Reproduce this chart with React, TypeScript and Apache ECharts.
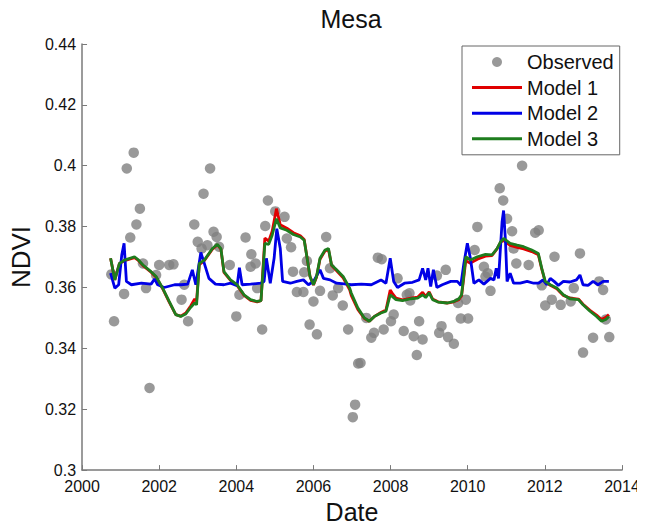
import React, { useEffect, useRef } from "react";
import * as echarts from "echarts";

const xTicks = [2000, 2002, 2004, 2006, 2008, 2010, 2012, 2014];
const yTicks = [0.3, 0.32, 0.34, 0.36, 0.38, 0.4, 0.42, 0.44];

const obsDates = [
  2000.76, 2000.83, 2001.09, 2001.16, 2001.25, 2001.34, 2001.41, 2001.5, 2001.58, 2001.66,
  2001.75, 2001.92, 2002.0, 2002.26, 2002.37, 2002.58, 2002.65, 2002.75, 2002.91, 2003.0,
  2003.1, 2003.15, 2003.25, 2003.32, 2003.41, 2003.49, 2003.55, 2003.83, 2004.0, 2004.08,
  2004.24, 2004.37, 2004.39, 2004.5, 2004.54, 2004.67, 2004.75, 2004.82, 2005.01, 2005.25,
  2005.31, 2005.42, 2005.47, 2005.57, 2005.74, 2005.76, 2005.83, 2005.9, 2006.0, 2006.09,
  2006.17, 2006.33, 2006.43, 2006.5, 2006.64, 2006.76, 2006.9, 2007.02, 2007.08, 2007.16,
  2007.22, 2007.37, 2007.5, 2007.57, 2007.67, 2007.77, 2007.82, 2008.01, 2008.08, 2008.18,
  2008.34, 2008.42, 2008.49, 2008.51, 2008.6, 2008.68, 2008.74, 2008.83, 2009.2, 2009.26,
  2009.32, 2009.43, 2009.49, 2009.64, 2009.75, 2009.82, 2009.95, 2010.01, 2010.18, 2010.25,
  2010.42, 2010.46, 2010.52, 2010.59, 2010.83, 2010.92, 2011.02, 2011.15, 2011.19, 2011.26,
  2011.41, 2011.58, 2011.75, 2011.84, 2011.92, 2012.01, 2012.18, 2012.25, 2012.41, 2012.67,
  2012.75, 2012.91, 2012.99, 2013.25, 2013.41, 2013.51, 2013.58, 2013.67,
];
const obsValues = [
  0.3643, 0.3489, 0.3579, 0.3991, 0.3764, 0.4043, 0.3807, 0.3859, 0.3679, 0.3598,
  0.327, 0.3641, 0.3674, 0.3674, 0.3676, 0.356, 0.3609, 0.3489, 0.3807, 0.375,
  0.3728, 0.3908, 0.3739, 0.3991, 0.3783, 0.3766, 0.3734, 0.3674, 0.3505, 0.3576,
  0.3764, 0.3668, 0.3709, 0.3679, 0.3598, 0.3462, 0.3802, 0.3886, 0.385, 0.3832,
  0.3761, 0.3732, 0.3652, 0.3585, 0.3585, 0.365, 0.3687, 0.3478, 0.3554, 0.3446,
  0.3589, 0.3766, 0.3663, 0.3574, 0.3598, 0.3541, 0.3462, 0.3174, 0.3215, 0.335,
  0.3352, 0.35, 0.3435, 0.3451, 0.3698, 0.3693, 0.3462, 0.3489, 0.3511, 0.363,
  0.3457, 0.3576, 0.3581, 0.3557, 0.344, 0.3378, 0.3489, 0.3429, 0.3639, 0.3451,
  0.3473, 0.3658, 0.3437, 0.3415, 0.3549, 0.3498, 0.356, 0.3498, 0.3723, 0.3799,
  0.3668, 0.3636, 0.3647, 0.3589, 0.3926, 0.3886, 0.3826, 0.3785, 0.3728, 0.3679,
  0.4, 0.3674, 0.378, 0.3788, 0.3607, 0.3541, 0.356, 0.3701, 0.3543, 0.3554,
  0.3598, 0.3712, 0.3386, 0.3435, 0.362, 0.3592, 0.3495, 0.3437,
];

const m3Dates = [
  2000.74, 2000.85, 2000.97, 2001.1, 2001.36, 2001.45, 2001.58, 2001.79, 2001.92, 2002.09,
  2002.26, 2002.43, 2002.56, 2002.69, 2002.82, 2002.92, 2002.97, 2003.04, 2003.17, 2003.38,
  2003.51, 2003.6, 2003.68, 2003.85, 2004.02, 2004.2, 2004.37, 2004.54, 2004.64, 2004.74,
  2004.84, 2004.93, 2005.04, 2005.14, 2005.31, 2005.48, 2005.66, 2005.76, 2005.85, 2005.91,
  2006.0, 2006.08, 2006.17, 2006.3, 2006.39, 2006.47, 2006.6, 2006.77, 2006.94, 2006.98,
  2007.15, 2007.32, 2007.45, 2007.58, 2007.75, 2007.88, 2007.99, 2008.05, 2008.14, 2008.31,
  2008.53, 2008.7, 2008.83, 2008.91, 2009.0, 2009.09, 2009.23, 2009.47, 2009.64, 2009.77,
  2009.84, 2009.88, 2009.95, 2010.07, 2010.25, 2010.46, 2010.63, 2010.76, 2010.85, 2010.93,
  2011.1, 2011.28, 2011.45, 2011.66, 2011.83, 2011.92, 2012.01, 2012.14, 2012.31, 2012.48,
  2012.65, 2012.87, 2012.99, 2013.17, 2013.34, 2013.47, 2013.58, 2013.66,
];
const m3Values = [
  0.3696, 0.3625, 0.3679, 0.369, 0.3701, 0.3692, 0.3674, 0.3652, 0.3636, 0.3598,
  0.3554, 0.3511, 0.3505, 0.3513, 0.3535, 0.3549, 0.3543, 0.3679, 0.369, 0.3728,
  0.3742, 0.3728, 0.3652, 0.3625, 0.3609, 0.3576, 0.356, 0.3554, 0.3557, 0.3745,
  0.3742, 0.3772, 0.3826, 0.3796, 0.3788, 0.3774, 0.3766, 0.3755, 0.3685, 0.3636,
  0.3609, 0.3636, 0.3696, 0.3723, 0.3728, 0.3674, 0.3658, 0.3636, 0.3598, 0.3582,
  0.3533, 0.35, 0.3489, 0.3505, 0.3516, 0.3522, 0.3576, 0.357, 0.356, 0.3557,
  0.3563, 0.3565, 0.3576, 0.3567, 0.3582, 0.356, 0.3552, 0.3549, 0.3554, 0.3563,
  0.3576, 0.362, 0.3701, 0.369, 0.3701, 0.3709, 0.3707, 0.3728, 0.375, 0.3761,
  0.3745, 0.3739, 0.3734, 0.3723, 0.3712, 0.3663, 0.362, 0.3609, 0.3598, 0.3576,
  0.3563, 0.356, 0.3543, 0.3522, 0.3505, 0.3489, 0.3495, 0.3505,
];

const m1Dates = m3Dates;
const m1Values = [
  0.3696, 0.3625, 0.3679, 0.3688, 0.3698, 0.369, 0.3672, 0.365, 0.3634, 0.3596,
  0.3552, 0.3511, 0.3506, 0.3516, 0.354, 0.3562, 0.3556, 0.3675, 0.3688, 0.3726,
  0.374, 0.3726, 0.365, 0.3623, 0.3607, 0.3574, 0.3558, 0.3553, 0.3557, 0.3762,
  0.3752, 0.3785, 0.3859, 0.3806, 0.3795, 0.378, 0.377, 0.3758, 0.3685, 0.3636,
  0.3608, 0.3634, 0.3693, 0.372, 0.3725, 0.3672, 0.3655, 0.3632, 0.3592, 0.3574,
  0.3528, 0.3498, 0.3489, 0.3505, 0.3518, 0.3526, 0.3592, 0.358, 0.3565, 0.3559,
  0.3565, 0.3568, 0.3584, 0.357, 0.3586, 0.3562, 0.3553, 0.3549, 0.3553, 0.356,
  0.3572, 0.3614, 0.3688, 0.368, 0.3693, 0.3703, 0.3705, 0.3727, 0.3748, 0.3755,
  0.3738, 0.3732, 0.3727, 0.3718, 0.3708, 0.366, 0.3618, 0.3607, 0.3596, 0.3574,
  0.3565, 0.3562, 0.3545, 0.3525, 0.3509, 0.3495, 0.3502, 0.3511,
];

const m2Dates = [
  2000.74, 2000.85, 2000.95, 2001.03, 2001.09, 2001.15, 2001.28, 2001.54, 2001.79, 2001.88,
  2001.96, 2002.13, 2002.4, 2002.57, 2002.74, 2002.86, 2002.95, 2003.08, 2003.17, 2003.29,
  2003.46, 2003.68, 2003.85, 2004.02, 2004.08, 2004.15, 2004.37, 2004.63, 2004.72, 2004.78,
  2004.88, 2004.98, 2005.05, 2005.14, 2005.2, 2005.4, 2005.57, 2005.74, 2005.87, 2006.0,
  2006.17, 2006.26, 2006.43, 2006.6, 2006.86, 2006.98, 2007.24, 2007.5, 2007.75, 2007.88,
  2007.99, 2008.08, 2008.18, 2008.36, 2008.57, 2008.74, 2008.83, 2008.91, 2008.97, 2009.04,
  2009.11, 2009.2, 2009.34, 2009.56, 2009.73, 2009.82, 2009.9, 2009.99, 2010.07, 2010.16,
  2010.29, 2010.42, 2010.59, 2010.68, 2010.74, 2010.8, 2010.89, 2010.93, 2010.98, 2011.02,
  2011.1, 2011.19, 2011.36, 2011.54, 2011.71, 2011.84, 2011.95, 2012.05, 2012.14, 2012.24,
  2012.35, 2012.48, 2012.65, 2012.82, 2012.91, 2012.99, 2013.12, 2013.25, 2013.38, 2013.51,
  2013.66,
];
const m2Values = [
  0.3647, 0.3598, 0.3609, 0.3707, 0.3745, 0.362, 0.3609, 0.3614, 0.3611, 0.3628,
  0.3609, 0.36, 0.3609, 0.3609, 0.3611, 0.3658, 0.3609, 0.3715, 0.3679, 0.363,
  0.3611, 0.3609, 0.3614, 0.3606, 0.3665, 0.3609, 0.3611, 0.3614, 0.362, 0.3696,
  0.3614, 0.3696, 0.3793, 0.3728, 0.362, 0.3614, 0.362, 0.3625, 0.3609, 0.362,
  0.3658, 0.363, 0.3625, 0.3614, 0.3611, 0.3609, 0.3611, 0.3609, 0.3625, 0.3614,
  0.3696, 0.362, 0.36, 0.3614, 0.3617, 0.3625, 0.3663, 0.3625, 0.3663, 0.3603,
  0.3658, 0.36, 0.3609, 0.362, 0.362, 0.3607, 0.3679, 0.3745, 0.3696, 0.3614,
  0.3625, 0.3611, 0.363, 0.3625, 0.3663, 0.363, 0.3815, 0.3853, 0.375, 0.362,
  0.3647, 0.3614, 0.3614, 0.362, 0.3614, 0.3614, 0.3625, 0.3609, 0.363, 0.362,
  0.3607, 0.362, 0.3618, 0.3625, 0.3641, 0.3609, 0.3607, 0.362, 0.3609, 0.362,
  0.362,
];

const zip = (xs: number[], ys: number[]) => xs.map((x, i) => [x, ys[i]]);

const lineIcon = "path://M0,0L50,0L50,3L0,3Z";

export default function App() {
  const ref = useRef<HTMLDivElement>(null);
  useEffect(() => {
    if (!ref.current) return;
    const chart = echarts.init(ref.current, null, { renderer: "svg" });
    const axisColor = "#7a7a7a";
    const font = "Arial, 'Liberation Sans', sans-serif";
    chart.setOption({
      animation: false,
      backgroundColor: "#ffffff",
      title: {
        text: "Mesa",
        left: 351,
        top: 6,
        textAlign: "center",
        padding: 0,
        textStyle: { fontFamily: font, fontSize: 25, fontWeight: "normal", color: "#111" },
      },
      grid: { left: 79, right: 23, top: 44, bottom: 56, containLabel: false },
      legend: {
        orient: "vertical",
        left: 462,
        top: 46,
        padding: [6, 6, 6, 10],
        itemGap: 5.6,
        itemWidth: 50,
        itemHeight: 10,
        symbolKeepAspect: true,
        backgroundColor: "#ffffff",
        borderColor: "#666",
        borderWidth: 1,
        borderRadius: 0,
        textStyle: { fontFamily: font, fontSize: 20, lineHeight: 20, color: "#111" },
        data: [
          { name: "Observed", icon: "circle" },
          { name: "Model 1", icon: lineIcon },
          { name: "Model 2", icon: lineIcon },
          { name: "Model 3", icon: lineIcon },
        ],
      },
      xAxis: {
        type: "value",
        min: xTicks[0],
        max: xTicks[xTicks.length - 1],
        interval: 2,
        name: "Date",
        nameLocation: "middle",
        nameGap: 26,
        nameTextStyle: { fontFamily: font, fontSize: 25, color: "#111" },
        axisLine: { show: true, lineStyle: { color: axisColor, width: 1.5 } },
        axisTick: { show: true, inside: true, length: 5, lineStyle: { color: axisColor } },
        axisLabel: {
          margin: 8,
          fontFamily: font,
          fontSize: 16,
          color: "#111",
          formatter: (v: number) => String(v),
        },
        splitLine: { show: false },
      },
      yAxis: {
        type: "value",
        min: yTicks[0],
        max: yTicks[yTicks.length - 1],
        interval: 0.02,
        name: "NDVI",
        nameLocation: "middle",
        nameRotate: 90,
        nameGap: 47,
        nameTextStyle: { fontFamily: font, fontSize: 26, color: "#111" },
        axisLine: { show: true, lineStyle: { color: axisColor, width: 1.5 } },
        axisTick: { show: true, inside: true, length: 5, lineStyle: { color: axisColor } },
        axisLabel: {
          margin: 6,
          fontFamily: font,
          fontSize: 16,
          color: "#111",
          formatter: (v: number) => String(parseFloat(v.toFixed(2))),
        },
        splitLine: { show: false },
      },
      series: [
        {
          name: "Observed",
          type: "scatter",
          symbol: "circle",
          symbolSize: 10.5,
          itemStyle: { color: "#808080" },
          data: zip(obsDates, obsValues),
          z: 1,
        },
        {
          name: "Model 1",
          type: "line",
          symbol: "none",
          lineStyle: { color: "#e00000", width: 2.8 },
          itemStyle: { color: "#e00000" },
          data: zip(m1Dates, m1Values),
          z: 2,
        },
        {
          name: "Model 2",
          type: "line",
          symbol: "none",
          lineStyle: { color: "#0000e6", width: 2.8 },
          itemStyle: { color: "#0000e6" },
          data: zip(m2Dates, m2Values),
          z: 3,
        },
        {
          name: "Model 3",
          type: "line",
          symbol: "none",
          lineStyle: { color: "#1e7d1e", width: 2.8 },
          itemStyle: { color: "#1e7d1e" },
          data: zip(m3Dates, m3Values),
          z: 4,
        },
      ],
    });
    return () => chart.dispose();
  }, []);
  return <div ref={ref} style={{ width: 645, height: 529, margin: -8 }} />;
}
